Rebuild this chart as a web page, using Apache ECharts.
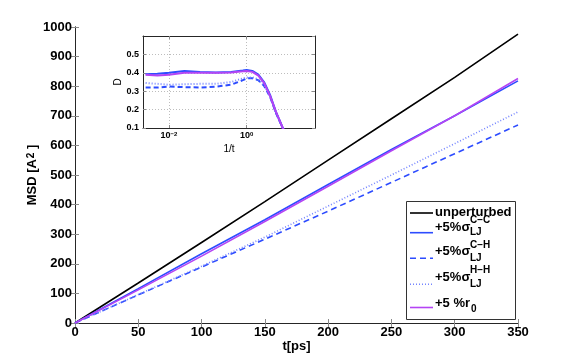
<!DOCTYPE html>
<html>
<head>
<meta charset="utf-8">
<script src="https://cdn.jsdelivr.net/npm/echarts@6/dist/echarts.min.js"></script>
<style>
html,body{margin:0;padding:0;background:#fff;}
#main{width:573px;height:364px;}
</style>
</head>
<body>
<div id="main"></div>
<script>
// main plot: MSD vs t
var tPs = [0, 50, 100, 150, 200, 250, 300, 350];
var msdUnpert = [0, 135, 272, 410, 550, 690, 830, 976];
var msdCC = [0, 116, 234, 349, 468, 586, 700, 818];
var msdCH = [0, 95, 189, 283, 378, 475, 572, 669];
var msdHH = [0, 96, 192, 290, 395, 500, 606, 713];
var msdR0 = [0, 112, 226, 343, 462, 582, 700, 826];

// inset: D vs 1/t
var invT = [0.0025, 0.005, 0.01, 0.025, 0.063, 0.16, 0.4, 0.8, 1, 1.4, 2, 2.8, 4, 5.6, 8.5, 11];
var dCC = [0.392, 0.395, 0.400, 0.410, 0.405, 0.402, 0.405, 0.412, 0.415, 0.410, 0.390, 0.350, 0.280, 0.190, 0.100, 0.060];
var dR0 = [0.390, 0.385, 0.390, 0.400, 0.400, 0.400, 0.402, 0.408, 0.410, 0.405, 0.385, 0.345, 0.275, 0.190, 0.100, 0.060];
var dCH = [0.320, 0.320, 0.325, 0.322, 0.320, 0.325, 0.335, 0.360, 0.370, 0.370, 0.360, 0.330, 0.270, 0.185, 0.100, 0.060];
var dHH = [0.345, 0.340, 0.335, 0.338, 0.340, 0.340, 0.350, 0.370, 0.375, 0.375, 0.365, 0.335, 0.270, 0.185, 0.100, 0.060];

var xTicksInset = [-2, 0];

// legend entries: main text, superscript, subscript
var legMain = ['unperturbed', '+5%\u03c3', '+5%\u03c3', '+5%\u03c3', '+5 %r'];
var legSup = ['', 'C\u2212C', 'C\u2212H', 'H\u2212H', ''];
var legSub = ['', 'LJ', 'LJ', 'LJ', '0'];

var keys = ['unperturbed', 'cc', 'ch', 'hh', 'r0'];
var colors = {unperturbed: '#000000', cc: '#2d4cff', ch: '#2d4cff', hh: '#7585ff', r0: '#b444f4'};
var dashes = {unperturbed: null, cc: null, ch: [6, 4], hh: [1, 2], r0: null};
var insetDashes = {unperturbed: null, cc: null, ch: [5, 3], hh: [1, 2], r0: null};

function pairs(xs, ys) {
  var res = [];
  for (var i = 0; i < xs.length; i++) res.push([xs[i], ys[i]]);
  return res;
}
function logPairs(xs, ys) {
  var res = [];
  for (var i = 0; i < xs.length; i++) res.push([Math.log10(xs[i]), ys[i]]);
  return res;
}

var font = 'Liberation Sans';
var axisCol = '#262626';
var tickCol = '#8a8a8a';

function mainLine(name, data) {
  return {
    name: name, type: 'line', data: data, symbol: 'none', silent: true,
    xAxisIndex: 0, yAxisIndex: 0,
    lineStyle: {color: colors[name], width: 1.6, type: dashes[name] || 'solid'}
  };
}
function insetLine(name, data) {
  return {
    name: 'inset_' + name, type: 'line', data: data, symbol: 'none', silent: true,
    xAxisIndex: 2, yAxisIndex: 2, clip: true,
    lineStyle: {color: colors[name], width: 2, type: insetDashes[name] || 'solid'}
  };
}

// legend drawn by hand (stacked super/subscripts)
var legBox = {x: 406, y: 201, w: 109, h: 118};
var legIconY = [213, 232.7, 258.3, 284.3, 307.5];
var legMainY = [212.5, 227.3, 251.7, 277.3, 303.3];
var legSupY = [0, 220.3, 245, 270.7, 0];
var legSubY = [0, 232.7, 258.3, 284.3, 309.5];
var legend = [{
  type: 'rect', shape: {x: legBox.x + 0.5, y: legBox.y + 0.5, width: legBox.w, height: legBox.h},
  style: {fill: '#fff', stroke: '#333', lineWidth: 1}, z: 100, silent: true
}];
keys.forEach(function(k, i) {
  legend.push({
    type: 'line', z: 101, silent: true,
    shape: {x1: 410, y1: legIconY[i], x2: 433, y2: legIconY[i]},
    style: {stroke: colors[k], lineWidth: 1.6, lineDash: dashes[k] || null}
  });
  legend.push({
    type: 'text', z: 101, silent: true, x: 435, y: legMainY[i],
    style: {text: legMain[i], font: 'bold 13px "Liberation Sans"', fill: '#000', verticalAlign: 'middle', align: 'left'}
  });
  if (legSup[i]) legend.push({
    type: 'text', z: 101, silent: true, x: 470, y: legSupY[i],
    style: {text: legSup[i], font: 'bold 10px "Liberation Sans"', fill: '#000', verticalAlign: 'middle', align: 'left'}
  });
  if (legSub[i]) legend.push({
    type: 'text', z: 101, silent: true, x: legSup[i] ? 470 : 471, y: legSubY[i],
    style: {text: legSub[i], font: 'bold 10px "Liberation Sans"', fill: '#000', verticalAlign: 'middle', align: 'left'}
  });
});

var chart = echarts.init(document.getElementById('main'), null, {renderer: 'canvas'});
chart.setOption({
  animation: false,
  backgroundColor: '#fff',
  textStyle: {fontFamily: font},
  grid: [
    {left: 75, top: 27, right: 55, bottom: 41},
    {left: 143, top: 36, width: 172, height: 92}
  ],
  xAxis: [
    {
      type: 'value', gridIndex: 0, min: 0, max: 350, interval: 50,
      name: 't[ps]', nameLocation: 'middle', nameGap: 17, nameMoveOverlap: false,
      nameTextStyle: {fontFamily: font, fontWeight: 'bold', fontSize: 13, color: '#000'},
      axisLine: {lineStyle: {color: axisCol, width: 1}},
      axisTick: {inside: true, length: 4, lineStyle: {color: tickCol}},
      axisLabel: {fontFamily: font, fontWeight: 'bold', fontSize: 13, color: '#000', margin: 3,
        formatter: function(v) { return String(v); }},
      splitLine: {show: false}
    },
    {
      type: 'value', gridIndex: 0, position: 'top', min: 0, max: 350, interval: 50,
      axisLine: {lineStyle: {color: axisCol, width: 1}},
      axisTick: {inside: true, length: 4, lineStyle: {color: tickCol}},
      axisLabel: {show: false}, splitLine: {show: false}
    },
    {
      type: 'value', gridIndex: 1, min: -2.67, max: 1.76,
      name: '1/t', nameLocation: 'middle', nameGap: 15,
      nameTextStyle: {fontFamily: font, fontSize: 10, color: '#000'},
      axisLine: {onZero: false, lineStyle: {color: axisCol, width: 1}},
      axisTick: {inside: true, length: 3, customValues: xTicksInset, lineStyle: {color: tickCol}},
      axisLabel: {
        customValues: xTicksInset, margin: 3, color: '#000',
        formatter: function(v) { return '{b|10}{s|' + (v < 0 ? '\u2212' : '') + Math.abs(v) + '}'; },
        rich: {
          b: {fontFamily: font, fontWeight: 'bold', fontSize: 9, lineHeight: 9, verticalAlign: 'bottom'},
          s: {fontFamily: font, fontWeight: 'bold', fontSize: 6, lineHeight: 6, verticalAlign: 'top', padding: [0, 0, 6, 0]}
        }
      },
      splitLine: {show: true, lineStyle: {color: '#bdbdbd', type: [1, 2], width: 1}}
    },
    {
      type: 'value', gridIndex: 1, position: 'top', min: -2.67, max: 1.76,
      axisLine: {onZero: false, lineStyle: {color: axisCol, width: 1}},
      axisTick: {inside: true, length: 3, customValues: xTicksInset, lineStyle: {color: tickCol}},
      axisLabel: {show: false}, splitLine: {show: false}
    }
  ],
  yAxis: [
    {
      type: 'value', gridIndex: 0, min: 0, max: 1000, interval: 100,
      name: '{t|MSD [A}{p|2}{t| ]}', nameLocation: 'middle', nameGap: 36, nameMoveOverlap: false,
      nameTextStyle: {
        color: '#000',
        rich: {
          t: {fontFamily: font, fontWeight: 'bold', fontSize: 13, lineHeight: 13, verticalAlign: 'bottom'},
          p: {fontFamily: font, fontWeight: 'bold', fontSize: 10, lineHeight: 10, verticalAlign: 'top', padding: [0, 0, 6, 1]}
        }
      },
      axisLine: {lineStyle: {color: axisCol, width: 1}},
      axisTick: {inside: true, length: 4, lineStyle: {color: tickCol}},
      axisLabel: {fontFamily: font, fontWeight: 'bold', fontSize: 13, color: '#000', margin: 3,
        formatter: function(v) { return String(v); }},
      splitLine: {show: false}
    },
    {
      type: 'value', gridIndex: 0, position: 'right', min: 0, max: 1000, interval: 100,
      axisLine: {lineStyle: {color: axisCol, width: 1}},
      axisTick: {inside: true, length: 4, lineStyle: {color: tickCol}},
      axisLabel: {show: false}, splitLine: {show: false}
    },
    {
      type: 'value', gridIndex: 1, min: 0.1, max: 0.6, interval: 0.1,
      name: 'D', nameLocation: 'middle', nameGap: 20, nameMoveOverlap: false,
      nameTextStyle: {fontFamily: font, fontSize: 10, color: '#000'},
      axisLine: {onZero: false, lineStyle: {color: axisCol, width: 1}},
      axisTick: {inside: true, length: 3, lineStyle: {color: tickCol}},
      axisLabel: {fontFamily: font, fontWeight: 'bold', fontSize: 9, color: '#000', margin: 4, showMaxLabel: false,
        formatter: function(v) { return v.toFixed(1); }},
      splitLine: {show: true, lineStyle: {color: '#bdbdbd', type: [1, 2], width: 1}}
    },
    {
      type: 'value', gridIndex: 1, position: 'right', min: 0.1, max: 0.6, interval: 0.1,
      axisLine: {onZero: false, lineStyle: {color: axisCol, width: 1}},
      axisTick: {inside: true, length: 3, lineStyle: {color: tickCol}},
      axisLabel: {show: false}, splitLine: {show: false}
    }
  ],
  graphic: legend,
  series: [
    mainLine('unperturbed', pairs(tPs, msdUnpert)),
    mainLine('cc', pairs(tPs, msdCC)),
    mainLine('ch', pairs(tPs, msdCH)),
    mainLine('hh', pairs(tPs, msdHH)),
    mainLine('r0', pairs(tPs, msdR0)),
    insetLine('ch', logPairs(invT, dCH)),
    insetLine('hh', logPairs(invT, dHH)),
    insetLine('cc', logPairs(invT, dCC)),
    insetLine('r0', logPairs(invT, dR0))
  ]
});
</script>
</body>
</html>
